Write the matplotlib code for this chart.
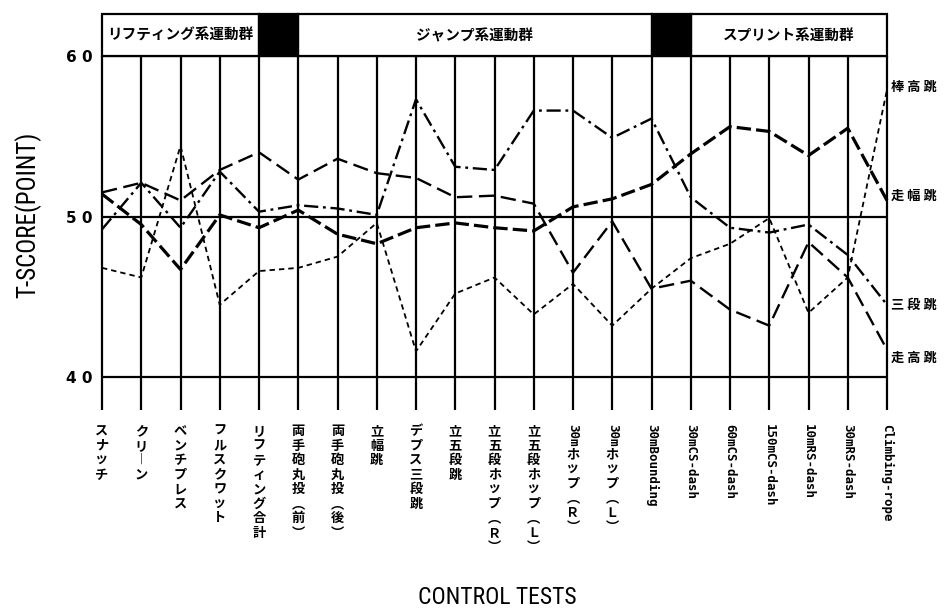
import matplotlib
matplotlib.use('Agg')
import matplotlib.pyplot as plt
from matplotlib import font_manager, transforms
from matplotlib.patches import Rectangle

# ---------------- data ----------------
categories = ['スナッチ', 'クリーン', 'ベンチプレス', 'フルスクワット', 'リフティング合計',
              '両手砲丸投（前）', '両手砲丸投（後）', '立幅跳', 'デプス三段跳', '立五段跳',
              '立五段ホップ（R）', '立五段ホップ（L）', '30mホップ（R）', '30mホップ（L）',
              '30mBounding', '30mCS-dash', '60mCS-dash', '150mCS-dash', '10mRS-dash',
              '30mRS-dash', 'Climbing-rope']

series_names = ['棒高跳', '走幅跳', '三段跳', '走高跳']
pole_vault = [46.8, 46.2, 54.4, 44.5, 46.6, 46.8, 47.5, 49.6, 41.6, 45.2, 46.2,
              43.9, 45.8, 43.2, 45.5, 47.4, 48.3, 49.9, 44.0, 46.2, 57.9]
long_jump = [51.4, 49.5, 46.7, 50.1, 49.3, 50.4, 48.9, 48.3, 49.3, 49.6, 49.3,
             49.1, 50.6, 51.1, 52.0, 53.9, 55.6, 55.3, 53.8, 55.5, 51.0]
triple_jump = [49.2, 52.1, 49.3, 52.8, 50.3, 50.7, 50.5, 50.1, 57.3, 53.1, 52.9,
               56.6, 56.6, 54.9, 56.1, 51.2, 49.3, 49.0, 49.5, 47.6, 44.5]
high_jump = [51.5, 52.1, 51.0, 52.9, 54.0, 52.3, 53.6, 52.7, 52.4, 51.2, 51.3,
             50.8, 46.5, 49.7, 45.5, 46.0, 44.2, 43.2, 48.4, 46.2, 41.7]

group_labels = ['リフティング系運動群', 'ジャンプ系運動群', 'スプリント系運動群']
group_spans = [(0, 4), (5, 14), (15, 20)]
separator_spans = [(4, 5), (14, 15)]

yticks = [40, 50, 60]
ytick_labels = ['4 0', '5 0', '6 0']
y_title = 'T-SCORE(POINT)'
x_title = 'CONTROL TESTS'

# ---------------- fonts ----------------
names = {f.name for f in font_manager.fontManager.ttflist}
def pick(*cands):
    for c in cands:
        if c in names:
            return c
    return 'DejaVu Sans'
CJK = pick('Noto Sans CJK JP', 'Noto Sans CJK SC')
MONO = pick('DejaVu Sans Mono', 'Liberation Mono')
NARROW = pick('Liberation Sans Narrow', 'DejaVu Sans Condensed', 'Roboto Condensed', 'Liberation Sans')

W, H = 950, 614
fig = plt.figure(figsize=(W / 100, H / 100), dpi=100)

L = 102 / W
R = 887 / W
top_px, bot_px = 56, 410
ymin = 40 - (bot_px - 377) / 16.05
ax = fig.add_axes([L, 1 - bot_px / H, R - L, (bot_px - top_px) / H])
ax.set_xlim(0, 20)
ax.set_ylim(ymin, 60)
for s in ax.spines.values():
    s.set_visible(False)

x = list(range(len(categories)))
ax.vlines(x, ymin, 60, colors='black', lw=1.6, clip_on=False)
ax.hlines(yticks, 0, 20, colors='black', lw=1.6, clip_on=False)

styles = {
    '棒高跳': dict(lw=1.3, dashes=(3.0, 2.2)),
    '走幅跳': dict(lw=2.3, dashes=(4.5, 1.6)),
    '三段跳': dict(lw=1.7, dashes=(6.0, 2.0, 1.2, 2.0)),
    '走高跳': dict(lw=1.7, dashes=(6.5, 2.8)),
}
for name, vals in zip(series_names, [pole_vault, long_jump, triple_jump, high_jump]):
    ax.plot(x, vals, color='black', clip_on=False, **styles[name])

ax.set_xticks([])
ax.set_yticks(yticks)
ax.set_yticklabels(ytick_labels, fontsize=11, fontweight='bold')
ax.tick_params(axis='y', length=0, pad=7)

# right-side series labels
label_y = [58.1, 51.3, 44.5, 41.2]
for name, yy in zip(series_names, label_y):
    ax.text(20.1, yy, ' '.join(name), ha='left', va='center', fontsize=9.5,
            fontweight='bold', family=[CJK, 'DejaVu Sans'], clip_on=False)

# header
hax = fig.add_axes([L, 1 - top_px / H, R - L, (top_px - 14) / H])
hax.set_xlim(0, 20)
hax.set_ylim(0, 1)
hax.axis('off')
for (a, b), lab in zip(group_spans, group_labels):
    hax.add_patch(Rectangle((a, 0), b - a, 1, fc='white', ec='black', lw=1.6, clip_on=False))
    hax.text((a + b) / 2, 0.5, lab, ha='center', va='center', fontsize=10.5,
             fontweight='bold', family=[CJK, 'DejaVu Sans'])
for a, b in separator_spans:
    hax.add_patch(Rectangle((a, 0), b - a, 1, fc='black', ec='black', lw=1.6, clip_on=False))

# axis titles
fig.text(28 / W, 1 - 215 / H, y_title, rotation=90, ha='center', va='center',
         fontsize=18, family=NARROW)
fig.text(497 / W, 1 - 598 / H, x_title, ha='center', va='center',
         fontsize=17, family=NARROW)

# vertical category labels
vmap = {'ー': '︱', '（': '︵', '）': '︶', 'R': 'Ｒ', 'L': 'Ｌ'}
def segments(label):
    segs = []
    cur, kind = '', None
    for ch in label:
        k = 'latin' if ord(ch) < 128 else 'cjk'
        if k != kind and cur:
            segs.append((kind, cur))
            cur = ''
        kind = k
        cur += ch
    if cur:
        segs.append((kind, cur))
    out = []
    for k, s in segs:
        if k == 'latin' and len(s) == 1:
            k = 'cjk'
        if out and out[-1][0] == k == 'cjk':
            out[-1] = ('cjk', out[-1][1] + s)
        else:
            out.append((k, s))
    return out

renderer = fig.canvas.get_renderer()
trans = transforms.blended_transform_factory(ax.transData, transforms.IdentityTransform())
label_top = 424
for i, lab in enumerate(categories):
    ypx = label_top
    for k, s in segments(lab):
        if k == 'latin':
            t = ax.text(i, H - ypx, s, rotation=-90, ha='center', va='top', transform=trans,
                        fontsize=9, fontweight='bold', family=MONO)
        else:
            s2 = '\n'.join(vmap.get(c, c) for c in s)
            t = ax.text(i, H - ypx, s2, ha='center', va='top', transform=trans,
                        fontsize=9.5, fontweight='bold', family=[CJK, 'DejaVu Sans'],
                        linespacing=1.05)
        bb = t.get_window_extent(renderer)
        ypx += bb.height + 1

fig.savefig('out.png', dpi=100)
